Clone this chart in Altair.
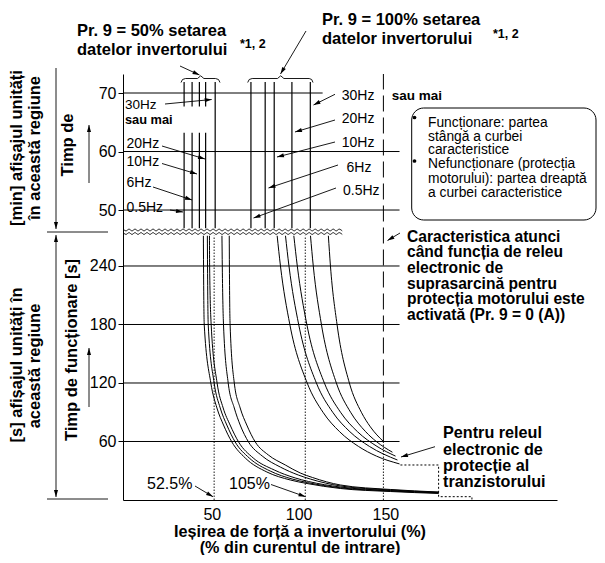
import math
import altair as alt
import pandas as pd

FONT = "Liberation Sans"

# ---------------- values ----------------
FREQS = ["0.5Hz", "6Hz", "10Hz", "20Hz", "30Hz"]

# Pr. 9 = 50 % : lower region, x = output current (%), t = operating time (s)
P50_05_X = [46.3, 46.4, 46.8, 50.6, 54.1, 57.9, 62.7, 70.4, 82.9, 96.4, 106.0, 125.2, 154.1, 181.8]
P50_05_T = [271, 239, 179.5, 120, 94.4, 76.9, 59.5, 43.1, 28.7, 20.5, 16.9, 11.8, 8.7, 6.7]
P50_6_X = [48.6, 48.7, 49.1, 52.5, 56.0, 59.8, 64.6, 72.7, 84.8, 97.5, 106.2, 125.2, 154.1, 181.8]
P50_6_T = [271, 239, 179.5, 120, 94.4, 76.9, 59.5, 43.1, 29.7, 21.5, 17.9, 12.5, 9.2, 7.2]
P50_10_X = [49.8, 49.9, 50.8, 54.2, 57.7, 61.7, 66.6, 75.0, 87.1, 99.2, 106.8, 125.2, 154.1, 181.8]
P50_10_T = [271, 239, 179.5, 120, 94.4, 76.9, 59.5, 43.1, 30.8, 22.6, 19.0, 13.3, 9.7, 7.5]
P50_20_X = [57.0, 57.2, 57.9, 60.6, 64.1, 67.5, 72.3, 80.2, 90.6, 101.0, 107.9, 125.2, 154.1, 181.8]
P50_20_T = [271, 239, 179.5, 120, 94.4, 76.9, 59.5, 45.1, 33.8, 25.6, 21.5, 14.4, 10.3, 7.9]
P50_30_X = [61.2, 61.3, 61.7, 64.1, 67.5, 71.3, 76.2, 83.7, 93.5, 102.1, 109.1, 125.2, 154.1, 181.8]
P50_30_T = [271, 239, 179.5, 120, 94.4, 76.9, 59.5, 46.2, 35.9, 27.7, 23.1, 15.4, 10.8, 8.2]

# Pr. 9 = 100 %
P100_05_X = [88.8, 90.7, 96.1, 106.1, 115.2, 124.8, 135.6, 146.0, 159.3]
P100_05_T = [271, 240, 180, 120, 90, 70, 55, 45, 37]
P100_6_X = [93.6, 95.6, 101.2, 111.4, 120.8, 130.7, 141.9, 158.1]
P100_6_T = [271, 240, 180, 120, 90, 70, 55, 41]
P100_10_X = [98.4, 100.4, 105.9, 116.0, 125.3, 135.1, 146.3, 157.0]
P100_10_T = [271, 240, 180, 120, 90, 70, 55, 45]
P100_20_X = [108.0, 109.6, 114.3, 122.9, 131.1, 139.8, 145.9, 155.2]
P100_20_T = [271, 240, 180, 120, 90, 70, 60, 49]
P100_30_X = [118.3, 119.5, 123.3, 130.4, 137.3, 142.5, 150.0]
P100_30_T = [271, 240, 180, 120, 90, 75, 60]

# upper region (minutes): vertical characteristic lines
UPPER_P50_X = [35.2, 39.8, 44.0, 47.6, 53.1]
UPPER_P100_X = [73.7, 81.9, 87.1, 97.3, 107.9]
UPPER_TOP_MIN = 71.9
UPPER_GAP_MIN = [63.2, 67.7]
UPPER_END_MIN = 46.9

SEC_TICKS = [60, 120, 180, 240]
MIN_TICKS = [50, 60, 70]
X_TICKS = [50, 100, 150]
REF_DOTTED = [52.5, 105]
REF_DASHED = 150
TRANSISTOR_X = [159.8, 181.8, 181.8, 201, 201]
TRANSISTOR_T = [35.9, 35.9, 3.4, 3.4, 0]

# ---------------- layout of the broken axis ----------------
X_MAX = 250
POS_MAX = 436.9
MIN50_POS = 297.4
POS_PER_MIN = 6.0
LOWER_TOP_S = 271
WAVE_POS = [276.9, 273.3]
WAVE_END = 128
GRID_END = 159.3
GRID70_END = 115

W, H = 434, 426
PAD = {"left": 115, "top": 66, "right": 40, "bottom": 55}
OX, OY = 8 + PAD["left"], 8 + PAD["top"]


def mpos(m):
    return MIN50_POS + (m - 50) * POS_PER_MIN


XS = alt.Scale(domain=[0, X_MAX], nice=False, zero=False)
YS = alt.Scale(domain=[0, POS_MAX], nice=False, zero=False)

y_vals = SEC_TICKS + [mpos(m) for m in MIN_TICKS]
X_AXIS = alt.Axis(values=X_TICKS, ticks=False, labelFont=FONT, labelFontSize=16,
                  labelColor="black", labelPadding=6, labelOffset=2, domainColor="black",
                  domainWidth=1, grid=False, title=None)
Y_AXIS = alt.Axis(values=y_vals, tickSize=5, tickColor="black", tickWidth=1,
                  labelFont=FONT, labelFontSize=16, labelColor="black", labelPadding=2,
                  domainColor="black", domainWidth=1, grid=False, title=None,
                  labelExpr=f"datum.value > 270 ? format(round((datum.value - {MIN50_POS}) / {POS_PER_MIN} + 50), 'd') : datum.label")


def dx(field):
    return alt.X(field, scale=XS, axis=X_AXIS)


def dy(field):
    return alt.Y(field, scale=YS, axis=Y_AXIS)


layers = []

# gridlines (carry the axes)
grid_rows = [{"a": 0, "b": GRID_END, "pos": s} for s in SEC_TICKS]
for m in MIN_TICKS:
    grid_rows.append({"a": 0, "b": GRID70_END if m == 70 else GRID_END, "pos": mpos(m)})
layers.append(
    alt.Chart(pd.DataFrame(grid_rows)).mark_rule(color="black", strokeWidth=1).encode(
        x=dx("a:Q"), x2=alt.X2("b"), y=dy("pos:Q"))
)

# lower-region curves
P50 = [(P50_05_X, P50_05_T), (P50_6_X, P50_6_T), (P50_10_X, P50_10_T), (P50_20_X, P50_20_T), (P50_30_X, P50_30_T)]
P100 = [(P100_05_X, P100_05_T), (P100_6_X, P100_6_T), (P100_10_X, P100_10_T), (P100_20_X, P100_20_T), (P100_30_X, P100_30_T)]
rows = []
for fam, curves in (("p50", P50), ("p100", P100)):
    for f, (xs, ts) in zip(FREQS, curves):
        for x, t in zip(xs, ts):
            rows.append({"x": x, "pos": t, "c": f"{fam}-{f}"})
layers.append(
    alt.Chart(pd.DataFrame(rows)).mark_line(interpolate="monotone", color="black", strokeWidth=1).encode(
        x=dx("x:Q"), y=dy("pos:Q"), detail="c:N")
)

# upper-region vertical lines
up_rows = []
for i, x in enumerate(UPPER_P50_X):
    if i < 4:
        segs = [(UPPER_TOP_MIN, UPPER_GAP_MIN[1]), (UPPER_GAP_MIN[0], UPPER_END_MIN)]
    else:
        segs = [(UPPER_TOP_MIN, UPPER_END_MIN)]
    for a, b in segs:
        up_rows.append({"x": x, "y1": mpos(a), "y2": mpos(b)})
for x in UPPER_P100_X:
    up_rows.append({"x": x, "y1": mpos(UPPER_TOP_MIN), "y2": mpos(UPPER_END_MIN)})
layers.append(
    alt.Chart(pd.DataFrame(up_rows)).mark_rule(color="black", strokeWidth=1.2).encode(
        x=dx("x:Q"), y=dy("y1:Q"), y2=alt.Y2("y2"))
)

# reference lines
dot_rows = [{"x": v, "y1": 0, "y2": LOWER_TOP_S} for v in REF_DOTTED] + [{"x": REF_DASHED, "y1": 0, "y2": 60}]
layers.append(
    alt.Chart(pd.DataFrame(dot_rows)).mark_rule(color="black", strokeWidth=0.9, strokeDash=[1.5, 1.5]).encode(
        x=dx("x:Q"), y=dy("y1:Q"), y2=alt.Y2("y2"))
)
layers.append(
    alt.Chart(pd.DataFrame([{"x": REF_DASHED, "y1": 60, "y2": POS_MAX}])).mark_rule(
        color="black", strokeWidth=1, strokeDash=[16, 6]).encode(
        x=dx("x:Q"), y=dy("y1:Q"), y2=alt.Y2("y2"))
)
layers.append(
    alt.Chart(pd.DataFrame({"x": TRANSISTOR_X, "pos": TRANSISTOR_T, "o": list(range(len(TRANSISTOR_X)))}))
    .mark_line(color="black", strokeWidth=1, strokeDash=[2, 2]).encode(
        x=dx("x:Q"), y=dy("pos:Q"), order="o:Q")
)

# wavy break lines (decoration)
wave_rows = []
n = int(WAVE_END / 1.73) + 1
for k, base in enumerate(WAVE_POS):
    for i in range(n):
        wave_rows.append({"x": i * 1.73, "pos": base + (0.9 if i % 2 == 0 else -0.9), "w": k})
layers.append(
    alt.Chart(pd.DataFrame(wave_rows)).mark_line(interpolate="cardinal", color="black", strokeWidth=0.9).encode(
        x=dx("x:Q"), y=dy("pos:Q"), detail="w:N")
)

# ---------------- annotations (page pixel positions) ----------------
PXX = alt.X("x:Q", scale=None, axis=None)
PXY = alt.Y("y:Q", scale=None, axis=None)


def text_layer(items, size, weight="normal", align="left", baseline="alphabetic", angle=None):
    df = pd.DataFrame([{"x": x - OX, "y": y - OY, "t": t} for t, x, y in items])
    kw = dict(font=FONT, fontSize=size, fontWeight=weight, align=align, baseline=baseline, color="black")
    if angle is not None:
        kw["angle"] = angle
    return alt.Chart(df).mark_text(**kw).encode(x=PXX, y=PXY, text="t:N")


TITLE_BOLD = [("Pr. 9 = 50% setarea", 77, 35.7), ("datelor invertorului", 77, 55),
              ("Pr. 9 = 100% setarea", 322, 25), ("datelor invertorului", 322, 43.5)]
SUPERS = [("*1, 2", 240, 48), ("*1, 2", 493, 38)]
HZ_LABELS = [("20Hz", 126.5, 148.3), ("10Hz", 126.5, 165.7),
             ("6Hz", 126.5, 187.3), ("0.5Hz", 126.5, 211.7),
             ("30Hz", 341.7, 100), ("20Hz", 341.7, 123.3), ("10Hz", 341.7, 146.7),
             ("6Hz", 346.5, 171.7), ("0.5Hz", 343, 195)]
HZ30_LEFT = [("30Hz", 125, 109.3)]
SAU_MAI_LEFT = [("sau mai", 125, 123.5)]
SAU_MAI_RIGHT = [("sau mai", 391.7, 100)]
PCT_LABELS = [("52.5%", 147, 489), ("105%", 229, 489)]
LEGEND_LINES = [("Funcționare: partea", 428, 126.5), ("stângă a curbei", 428, 140.5),
                ("caracteristice", 428, 154), ("Nefuncționare (protecția", 428, 168.3),
                ("motorului): partea dreaptă", 428, 182.7), ("a curbei caracteristice", 428, 196.7)]
CARAC = [("Caracteristica atunci", 407, 241.7), ("când funcția de releu", 407, 257.3),
         ("electronic de", 407, 272.9), ("suprasarcină pentru", 407, 288.5),
         ("protecția motorului este", 407, 304.1), ("activată (Pr. 9 = 0 (A))", 407, 319.7)]
TRANS = [("Pentru releul", 443, 438.3), ("electronic de", 443, 454.6),
         ("protecție al", 443, 470.9), ("tranzistorului", 443, 487.2)]
XTITLE = [("Ieșirea de forță a invertorului (%)", 300, 537), ("(% din curentul de intrare)", 300, 553.3)]
ROT = [("[min] afișajul unități", 17, 148), ("în această regiune", 35, 148), ("Timp de", 68, 145),
       ("[s] afișajul unități în", 17, 365), ("această regiune", 35, 366),
       ("Timp de funcționare [s]", 72, 350)]

layers += [
    text_layer(TITLE_BOLD, 16.5, "bold"),
    text_layer(SUPERS, 12.5, "bold"),
    text_layer(HZ_LABELS, 14),
    text_layer(HZ30_LEFT, 13.5),
    text_layer(SAU_MAI_LEFT, 12.8, "bold"),
    text_layer(SAU_MAI_RIGHT, 13.5, "bold"),
    text_layer(PCT_LABELS, 16),
    text_layer(CARAC, 15.6, "bold"),
    text_layer(TRANS, 16.2, "bold"),
    text_layer(XTITLE, 16.2, "bold", align="center"),
    text_layer(ROT, 16.5, "bold", align="center", baseline="middle", angle=270),
]

# legend box
layers.append(
    alt.Chart(pd.DataFrame([{"x": 411.7 - OX, "x2": 596 - OX, "y": 108 - OY, "y2": 220 - OY}]))
    .mark_rect(cornerRadius=12, fill="white", stroke="black", strokeWidth=1).encode(
        x=PXX, x2=alt.X2("x2"), y=PXY, y2=alt.Y2("y2"))
)
layers.append(text_layer(LEGEND_LINES, 13.8))
layers.append(
    alt.Chart(pd.DataFrame([{"x": 414.5 - OX, "y": 117.5 - OY}, {"x": 414.5 - OX, "y": 161 - OY}]))
    .mark_circle(size=14, color="black", opacity=1).encode(x=PXX, y=PXY)
)

# arrows: (x1, y1, x2, y2, head at end, head at start)
ARROWS = [
    (165, 104, 211.7, 99.5, True, False), (162, 146, 205, 159, True, False),
    (162, 163.5, 197, 174, True, False), (153, 187, 192, 200, True, False),
    (170, 210, 183, 212, True, False),
    (335, 94.3, 313.5, 105, True, False), (335, 120, 295, 132, True, False),
    (335, 142, 277, 157, True, False), (338, 165, 268.5, 188, True, False),
    (336, 188, 253.5, 218, True, False),
    (195, 486, 213, 496.7, True, False), (271, 484.5, 305.5, 496.7, True, False),
    (180, 66, 199.5, 75, True, False), (306, 31, 280.5, 74, True, False),
    (400, 233, 387.5, 240.5, True, False), (435, 446.7, 401, 457, True, False),
    (56, 68, 56, 229, True, False), (56, 235, 56, 497, True, True),
    (89, 183, 89, 125, True, False), (89, 407, 89, 348, True, False),
    (47, 232, 108, 232, False, False), (47, 499, 108, 499, False, False),
]
shaft_rows, head_rows = [], []
for x1, y1, x2, y2, he, hs in ARROWS:
    shaft_rows.append({"x": x1 - OX, "y": y1 - OY, "x2": x2 - OX, "y2": y2 - OY})
    if he:
        ang = math.degrees(math.atan2(x2 - x1, -(y2 - y1))) % 360
        head_rows.append({"x": x2 - OX, "y": y2 - OY, "a": ang})
    if hs:
        ang = math.degrees(math.atan2(x1 - x2, -(y1 - y2))) % 360
        head_rows.append({"x": x1 - OX, "y": y1 - OY, "a": ang})
layers.append(
    alt.Chart(pd.DataFrame(shaft_rows)).mark_rule(color="black", strokeWidth=0.9).encode(
        x=PXX, x2=alt.X2("x2"), y=PXY, y2=alt.Y2("y2"))
)
layers.append(
    alt.Chart(pd.DataFrame(head_rows)).mark_point(
        shape="M0,0L0.65,2.2L-0.65,2.2Z", filled=True, size=40, color="black", opacity=1, strokeWidth=0
    ).encode(x=PXX, y=PXY, angle=alt.Angle("a:Q", scale=None))
)

# braces
BRACE_L = [(181, 82.5), (182.5, 79.5), (185.5, 78.5), (197.5, 78.5), (200.7, 75.8), (203.9, 78.5),
           (215.5, 78.5), (218.5, 79.5), (220, 82.5)]
BRACE_R = [(247.7, 82.5), (249.2, 79.5), (252.2, 78.5), (277.5, 78.5), (280.7, 75.8), (283.9, 78.5),
           (309.2, 78.5), (311.7, 79.5), (313, 82.5)]
brace_rows = []
for k, br in enumerate((BRACE_L, BRACE_R)):
    for i, (x, y) in enumerate(br):
        brace_rows.append({"x": x - OX, "y": y - OY, "b": k, "o": i})
layers.append(
    alt.Chart(pd.DataFrame(brace_rows)).mark_line(color="black", strokeWidth=0.9).encode(
        x=PXX, y=PXY, detail="b:N", order="o:Q")
)

chart = alt.layer(*layers).properties(
    width=W, height=H, padding=PAD, autosize=alt.AutoSizeParams(type="none")
).configure_view(stroke=None)

chart.save("out.html", embed_options={"renderer": "svg", "actions": False})
